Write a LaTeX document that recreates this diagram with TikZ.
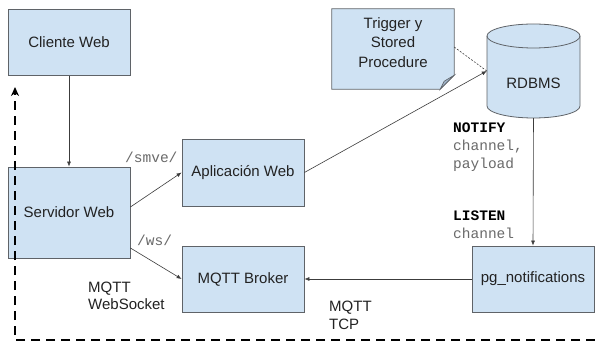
\documentclass[tikz,border=0pt]{standalone}
\usepackage{fontspec}
\setmainfont{Liberation Sans}
\setmonofont{Liberation Mono}
\usetikzlibrary{arrows.meta}
\definecolor{boxfill}{HTML}{CFE2F3}
\definecolor{boxline}{HTML}{5F6368}
\definecolor{arrowc}{HTML}{3C3C3C}
\definecolor{monogray}{HTML}{6A6A6A}
\definecolor{foldc}{HTML}{9FB3C8}
\definecolor{txt}{HTML}{222222}
\begin{document}
\begin{tikzpicture}[x=1pt,y=-1pt,
  box/.style={draw=boxline,fill=boxfill,line width=0.8pt,minimum width=122pt,inner sep=0pt,text=txt,font=\fontsize{15}{17}\selectfont},
  conn/.style={draw=arrowc,line width=0.6pt,-{Latex[length=5pt,width=4pt]}},
  monolbl/.style={font=\ttfamily\fontsize{14.5}{18}\selectfont,text=monogray,anchor=west,align=left,inner sep=0pt},
  plainlbl/.style={font=\fontsize{15}{17.5}\selectfont,text=txt,anchor=west,align=left,inner sep=0pt},
  dotconn/.style={draw=darkgray,line width=0.6pt,dash pattern=on 2pt off 1.5pt},
  bigdash/.style={draw=black,line width=2.6pt,dash pattern=on 9pt off 6pt,-{Stealth[length=9pt,width=8pt]}}]
\useasboundingbox[fill=white] (0,0) rectangle (595,342);

% boxes
\node[box,minimum height=66pt] (cliente) at (69,42.5) {Cliente Web};
\node[box,minimum height=91pt] (servidor) at (69,212.5) {Servidor Web};
\node[box,minimum height=67pt] (app) at (243,172.5) {Aplicación Web};
\node[box,minimum height=66pt] (broker) at (243,279) {MQTT Broker};
\node[box,minimum height=66pt] (pg) at (533,279) {pg\_notifications};

% note
\node[minimum width=122pt,minimum height=80pt,inner sep=0pt] (note) at (393,49) {};
\draw[draw=boxline,fill=boxfill,line width=0.8pt] (note.north west) -- (note.north east) -- ([yshift=14pt]note.south east) -- ([xshift=-14pt]note.south east) -- (note.south west) -- cycle;
\filldraw[fill=foldc,draw=boxline,line width=0.6pt] ([yshift=14pt]note.south east) -- ([xshift=-14pt]note.south east) -- ([xshift=-10pt,yshift=8pt]note.south east) -- cycle;
\node[align=center,font=\fontsize{15}{19.5}\selectfont,text=txt] at (393,42.5) {Trigger y\\Stored\\Procedure};

% cylinder
\filldraw[fill=boxfill,draw=boxline,line width=0.8pt]
  (487,36) -- (487,106) .. controls (487,112.63) and (507.82,118) .. (533.5,118)
  .. controls (559.18,118) and (580,112.63) .. (580,106) -- (580,36)
  .. controls (580,29.37) and (559.18,24) .. (533.5,24)
  .. controls (507.82,24) and (487,29.37) .. (487,36) -- cycle;
\draw[draw=boxline,line width=0.8pt]
  (487,36) .. controls (487,42.63) and (507.82,48) .. (533.5,48)
  .. controls (559.18,48) and (580,42.63) .. (580,36);
\node[minimum width=93pt,minimum height=70pt,inner sep=0pt,text=txt,font=\fontsize{15}{17}\selectfont] (rdbms) at (533.5,83) {RDBMS};

% connectors
\draw[conn] (cliente.south) -- (servidor.north);
\draw[conn] ([yshift=5.5pt]servidor.east) -- (app.west);
\draw[conn] ([yshift=-35.5pt]servidor.east) -- (broker.west);
\draw[conn] (app.east) -- ([yshift=12pt]rdbms.west);
\draw[dotconn] ([yshift=2pt]note.east) -- ([yshift=12pt]rdbms.west);
\draw[conn] (rdbms.south) -- (pg.north);
\draw[conn] (pg.west) -- (broker.east);

% labels
\node[monolbl] at (125,157) {/smve/};
\node[monolbl] at (137,240) {/ws/};
\node[plainlbl] at (88,296) {MQTT\\WebSocket};
\node[plainlbl] at (329,315.5) {MQTT\\TCP};
\node[monolbl] at (453,147) {\textcolor{black}{\textbf{NOTIFY}}\\channel,\\payload};
\node[monolbl] at (453,225) {\textcolor{black}{\textbf{LISTEN}}\\channel};

% big dashed return path
\coordinate (dend) at (595,340);
\coordinate (dcorner) at (15,340);
\coordinate (dtip) at (15,87);
\draw[bigdash] (dend) -- (dcorner) -- (dtip);
\end{tikzpicture}
\end{document}
